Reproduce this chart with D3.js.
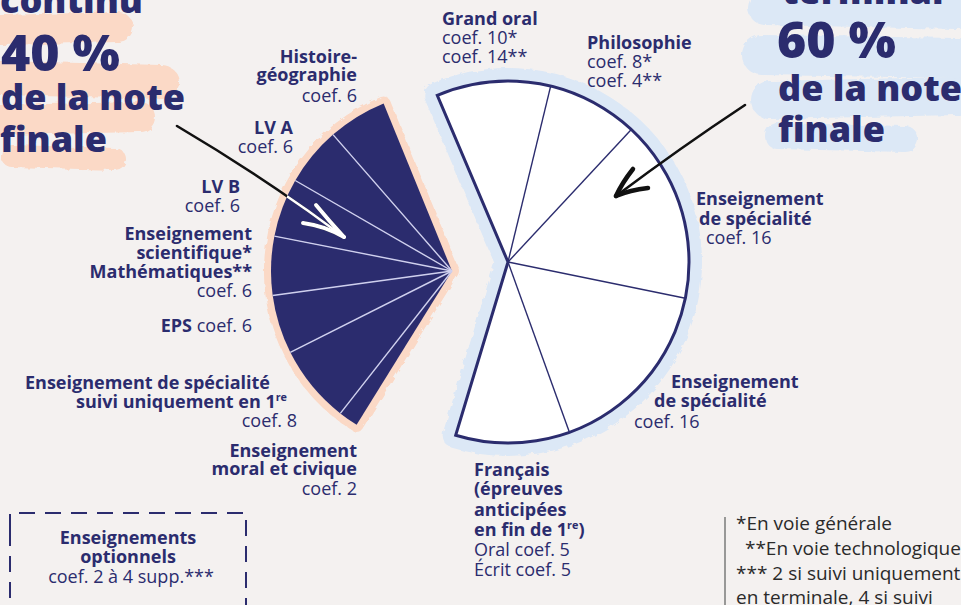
<!DOCTYPE html>
<html><head><meta charset="utf-8">
<script src="https://cdn.jsdelivr.net/npm/d3@7/dist/d3.min.js"></script>
<style>
html,body{margin:0;padding:0;background:#f4f1f0;}
svg{display:block;}
text{font-family:"Open Sans","Noto Sans",sans-serif;white-space:pre;}
</style></head><body>
<svg id="c" width="961" height="605"></svg>
<script>
// ---------- DATA ----------
const continuSubjects = ["Enseignement moral et civique","Enseignement de spécialité suivi uniquement en 1re","EPS","Enseignement scientifique / Mathématiques","LV B","LV A","Histoire-géographie"];
const continuCoefs = [2, 8, 6, 6, 6, 6, 6];
const terminalSubjects = ["Grand oral","Philosophie","Enseignement de spécialité","Enseignement de spécialité","Français"];
const terminalCoefs = [10, 8, 16, 16, 10];

const continuLabels = [
  [[["b","Enseignement"]],[["b","moral et civique"]],[["r","coef. 2"]]],
  [[["b","Enseignement de spécialité"]],[["b","suivi uniquement en 1"],["s","re"]],[["r","coef. 8"]]],
  [[["b","EPS"],["r"," coef. 6"]]],
  [[["b","Enseignement"]],[["b","scientifique*"]],[["b","Mathématiques**"]],[["r","coef. 6"]]],
  [[["b","LV B"]],[["r","coef. 6"]]],
  [[["b","LV A"]],[["r","coef. 6"]]],
  [[["b","Histoire-"]],[["b","géographie"]],[["r","coef. 6"]]]
];
const terminalLabels = [
  [[["b","Grand oral"]],[["r","coef. 10*"]],[["r","coef. 14**"]]],
  [[["b","Philosophie"]],[["r","coef. 8*"]],[["r","coef. 4**"]]],
  [[["b","Enseignement"]],[["b","de spécialité"]],[["r","coef. 16"]]],
  [[["b","Enseignement"]],[["b","de spécialité"]],[["r","coef. 16"]]],
  [[["b","Français"]],[["b","(épreuves"]],[["b","anticipées"]],[["b","en fin de 1"],["s","re"],["b",")"]],[["r","Oral coef. 5"]],[["r","Écrit coef. 5"]]]
];
const leftHeading = ["continu","40 %","de la note","finale"];
const rightHeading = ["terminal","60 %","de la note","finale"];
const optionLines = [[["b","Enseignements"]],[["b","optionnels"]],[["r","coef. 2 à 4 supp.***"]]];
const footnotes = ["*En voie générale"," **En voie technologique","*** 2 si suivi uniquement","en terminale, 4 si suivi"];

// ---------- LAYOUT ----------
const NAVY = "#2b2c6e", PEACH = "#fbd9c6", BLUE = "#dce8f6";
const R = 181, deg = Math.PI/180;
const darkC = [452, 271], whiteC = [508, 262];
const continuPos = [
  {a:"end", xs:[357,357,357], ys:[457,475,495]},
  {a:"end", xs:[270,287,297], ys:[389,408,427]},
  {a:"end", xs:[252], ys:[332]},
  {a:"end", xs:[252,252,252,252], ys:[240,259,278,297]},
  {a:"end", xs:[240,240], ys:[193,212]},
  {a:"end", xs:[293,293], ys:[134,153]},
  {a:"end", xs:[357,357,357], ys:[63,81,102]}
];
const terminalPos = [
  {a:"start", xs:[442,442,442], ys:[25,44,63]},
  {a:"start", xs:[587,587,587], ys:[49,68,87]},
  {a:"start", xs:[696,699,706], ys:[205,225,244]},
  {a:"start", xs:[671,654,634], ys:[388,407,428]},
  {a:"start", xs:[474,474,474,474,474,474], ys:[476,495,516,536,556,576]}
];

const svg = d3.select("#c");
const defs = svg.append("defs");
const f = defs.append("filter").attr("id","rough").attr("x","-10%").attr("y","-10%").attr("width","120%").attr("height","120%");
f.append("feTurbulence").attr("type","fractalNoise").attr("baseFrequency","0.15").attr("numOctaves",2).attr("seed",3).attr("result","n");
f.append("feDisplacementMap").attr("in","SourceGraphic").attr("in2","n").attr("scale",5);

svg.append("rect").attr("width",961).attr("height",605).attr("fill","#f4f1f0");

// brush strokes behind headings
const brush = svg.append("g").attr("filter","url(#rough)").attr("fill","none").attr("stroke-linecap","round");
[[[0,30],[118,27],30],[[0,78],[162,82],34],[[0,120],[140,117],30],[[12,156],[115,159],22]].forEach(b=>{
  brush.append("path").attr("d",d3.line()([b[0],b[1]])).attr("stroke",PEACH).attr("stroke-width",b[2]);
});
[[[765,8],[958,12],34],[[762,55],[958,58],40],[[770,100],[958,96],38],[[778,136],[905,139],26]].forEach(b=>{
  brush.append("path").attr("d",d3.line()([b[0],b[1]])).attr("stroke",BLUE).attr("stroke-width",b[2]);
});

// pies
const darkPie = d3.pie().sort(null).value(d=>d).startAngle(-148.2*deg).endAngle(-22.2*deg);
const whitePie = d3.pie().sort(null).value(d=>d).startAngle(-23*deg).endAngle(196.8*deg);
const arc = d3.arc().innerRadius(0).outerRadius(R);
const darkArcs = darkPie(continuCoefs);
const whiteArcs = whitePie(terminalCoefs);
const darkWhole = arc({startAngle:darkArcs[0].startAngle, endAngle:darkArcs[darkArcs.length-1].endAngle});
const whiteWhole = arc({startAngle:whiteArcs[0].startAngle, endAngle:whiteArcs[whiteArcs.length-1].endAngle});

// halos
svg.append("path").attr("transform",`translate(${whiteC})`).attr("d",whiteWhole)
  .attr("fill",BLUE).attr("stroke",BLUE).attr("stroke-width",26).attr("stroke-linejoin","round").attr("filter","url(#rough)");
svg.append("path").attr("transform",`translate(${darkC})`).attr("d",darkWhole)
  .attr("fill",PEACH).attr("stroke",PEACH).attr("stroke-width",14).attr("stroke-linejoin","round").attr("filter","url(#rough)");

// dark sector
const gD = svg.append("g").attr("transform",`translate(${darkC})`);
gD.selectAll("path.s").data(darkArcs).join("path").attr("class","s").attr("d",arc).attr("fill",NAVY);
gD.selectAll("line.d").data(darkArcs.slice(0,-1)).join("line").attr("class","d")
  .attr("x1",0).attr("y1",0)
  .attr("x2",d=>R*Math.sin(d.endAngle)).attr("y2",d=>-R*Math.cos(d.endAngle))
  .attr("stroke","#cfd0ee").attr("stroke-width",1.4);

// white sector
const gW = svg.append("g").attr("transform",`translate(${whiteC})`);
gW.selectAll("path.s").data(whiteArcs).join("path").attr("class","s").attr("d",arc).attr("fill","#ffffff");
gW.selectAll("line.d").data(whiteArcs.slice(0,-1)).join("line").attr("class","d")
  .attr("x1",0).attr("y1",0)
  .attr("x2",d=>R*Math.sin(d.endAngle)).attr("y2",d=>-R*Math.cos(d.endAngle))
  .attr("stroke",NAVY).attr("stroke-width",1.4);
gW.append("path").attr("d",whiteWhole).attr("fill","none").attr("stroke",NAVY).attr("stroke-width",3).attr("stroke-linejoin","miter");

// arrows
defs.append("clipPath").attr("id","darkClip").append("path").attr("transform",`translate(${darkC})`).attr("d",darkWhole);
function leftArrow(g, color){
  g.append("path").attr("d","M177,126 Q265,178 344,237").attr("fill","none").attr("stroke",color).attr("stroke-width",2.6).attr("stroke-linecap","round");
  g.append("path").attr("d","M316,205 Q330,222 344,237").attr("fill","none").attr("stroke",color).attr("stroke-width",4).attr("stroke-linecap","round");
  g.append("path").attr("d","M303,223 Q325,226 344,237").attr("fill","none").attr("stroke",color).attr("stroke-width",4).attr("stroke-linecap","round");
}
leftArrow(svg.append("g"), "#111");
leftArrow(svg.append("g").attr("clip-path","url(#darkClip)"), "#ffffff");
const ra = svg.append("g").attr("fill","none").attr("stroke","#111").attr("stroke-linecap","round");
ra.append("path").attr("d","M745,105 Q680,148 616,196").attr("stroke-width",2.6);
ra.append("path").attr("d","M633,169 Q622,183 616,196").attr("stroke-width",4.5);
ra.append("path").attr("d","M648,188 Q630,190 616,196").attr("stroke-width",4.5);

// labels
function drawLines(lines, pos, size){
  lines.forEach((line,i)=>{
    const t = svg.append("text").attr("x",pos.xs[i]).attr("y",pos.ys[i]).attr("text-anchor",pos.a)
      .attr("fill",NAVY).attr("font-size",size);
    let up = false;
    line.forEach(seg=>{
      const ts = t.append("tspan").text(seg[1]);
      if(seg[0]==="b") ts.attr("font-weight",700);
      else if(seg[0]==="r") ts.attr("font-weight",400);
      if(seg[0]==="s"){ ts.attr("font-weight",700).attr("font-size",size*0.6).attr("dy",-7); up=true; }
      else if(up){ ts.attr("dy",7); up=false; }
    });
  });
}
continuLabels.forEach((l,i)=>drawLines(l, continuPos[i], 18));
terminalLabels.forEach((l,i)=>drawLines(l, terminalPos[i], 18));

// headings
const hl = [{x:0,y:13,s:36},{x:1,y:71,s:50},{x:1,y:110,s:36},{x:0,y:152,s:36}];
leftHeading.forEach((t,i)=>svg.append("text").attr("x",hl[i].x).attr("y",hl[i].y).attr("font-size",hl[i].s)
  .attr("font-weight",800).attr("fill",NAVY).text(t));
const hr = [{x:782,y:4,s:36},{x:777,y:58,s:50},{x:778,y:101,s:36},{x:778,y:142,s:36}];
rightHeading.forEach((t,i)=>svg.append("text").attr("x",hr[i].x).attr("y",hr[i].y).attr("font-size",hr[i].s)
  .attr("font-weight",800).attr("fill",NAVY).text(t));

// optional box
const box = svg.append("g").attr("fill","none").attr("stroke",NAVY).attr("stroke-width",2);
box.append("path").attr("d","M10,530 L10,513 L246,513 L246,620 M10,530 L10,620").attr("stroke-dasharray","16,10");
drawLines(optionLines, {a:"middle", xs:[128,128,131], ys:[544,563,583]}, 18);

// footnotes
svg.append("line").attr("x1",725).attr("x2",725).attr("y1",517).attr("y2",605).attr("stroke","#7a7a7a").attr("stroke-width",1.5);
const fy = [530,555,580,604], fx=[736,740,736,736];
footnotes.forEach((t,i)=>svg.append("text").attr("x",fx[i]).attr("y",fy[i]).attr("font-size",19)
  .attr("fill","#2a2a2a").text(t));
</script>
</body></html>
